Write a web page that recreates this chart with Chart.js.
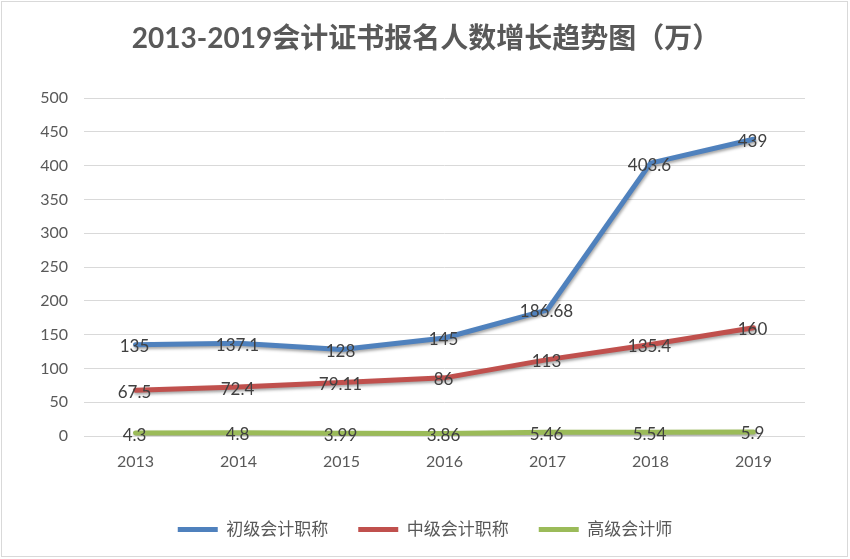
<!DOCTYPE html>
<html>
<head>
<meta charset="utf-8">
<script src="https://cdn.jsdelivr.net/npm/chart.js@4"></script>
<style>
    body { margin: 0; background: #fff; }
    #wrap { width: 850px; height: 559px; }
</style>
</head>
<body>
<div id="wrap"><canvas id="chartZhengshu"></canvas></div>
<script>
const years = ['2013', '2014', '2015', '2016', '2017', '2018', '2019'];
const chuji = [135, 137.1, 128, 145, 186.68, 403.6, 439];
const zhongji = [67.5, 72.4, 79.11, 86, 113, 135.4, 160];
const gaoji = [4.3, 4.8, 3.99, 3.86, 5.46, 5.54, 5.9];
const yTicks = [0, 50, 100, 150, 200, 250, 300, 350, 400, 450, 500];
const titulo = '2013-2019会计证书报名人数增长趋势图（万）';

const fontFam = "Lato, 'Noto Sans CJK SC', sans-serif";

// labels on each point, Excel style
const etiquetas = {
    id: 'etiquetas',
    afterDatasetsDraw(chart) {
        const ctx = chart.ctx;
        ctx.save();
        ctx.font = "17px " + fontFam;
        ctx.fillStyle = '#404040';
        ctx.textAlign = 'center';
        ctx.textBaseline = 'middle';
        chart.data.datasets.forEach((ds, i) => {
            chart.getDatasetMeta(i).data.forEach((pt, j) => {
                ctx.fillText(String(ds.data[j]), pt.x - 1, pt.y + 2);
            });
        });
        ctx.restore();
    }
};

const sombra = {
    id: 'sombra',
    beforeDatasetDraw(chart) {
        const ctx = chart.ctx;
        ctx.save();
        ctx.shadowColor = 'rgba(0,0,0,0.35)';
        ctx.shadowBlur = 3;
        ctx.shadowOffsetX = 1;
        ctx.shadowOffsetY = 2;
    },
    afterDatasetDraw(chart) {
        chart.ctx.restore();
    }
};

// white background, grey frame and centred title
const marco = {
    id: 'marco',
    beforeDraw(chart) {
        const ctx = chart.ctx;
        ctx.save();
        ctx.fillStyle = '#fff';
        ctx.fillRect(0, 0, chart.width, chart.height);
        ctx.strokeStyle = '#d9d9d9';
        ctx.lineWidth = 1;
        ctx.strokeRect(1.5, 1.5, chart.width - 4, chart.height - 4);
        ctx.font = "bold 28px " + fontFam;
        ctx.fillStyle = '#595959';
        ctx.textAlign = 'center';
        ctx.textBaseline = 'middle';
        ctx.fillText(titulo, 426, 39);
        ctx.restore();
    }
};

const data = {
    labels: years,
    datasets: [
        { label: '初级会计职称', data: chuji, borderColor: '#4f81bd', backgroundColor: '#4f81bd' },
        { label: '中级会计职称', data: zhongji, borderColor: '#c0504d', backgroundColor: '#c0504d' },
        { label: '高级会计师', data: gaoji, borderColor: '#9bbb59', backgroundColor: '#9bbb59' }
    ].map((d) => Object.assign(d, { borderWidth: 5, pointRadius: 0, tension: 0, borderCapStyle: 'round', borderJoinStyle: 'round' }))
};

const config = {
    type: 'line',
    data: data,
    plugins: [marco, sombra, etiquetas],
    options: {
        responsive: true,
        maintainAspectRatio: false,
        animation: false,
        layout: { padding: { left: 0, right: 0, top: 98, bottom: 11 } },
        plugins: {
            title: { display: false },
            legend: {
                position: 'bottom',
                labels: {
                    color: '#595959',
                    font: { family: fontFam, size: 17 },
                    usePointStyle: true,
                    pointStyleWidth: 40,
                    pointStyle: 'line',
                    padding: 30
                }
            },
            tooltip: { enabled: false }
        },
        scales: {
            x: {
                offset: true,
                grid: { display: false, drawTicks: false },
                border: { display: false },
                ticks: { color: '#595959', font: { family: fontFam, size: 16 }, padding: 16 },
                afterFit: (s) => { s.height = 55; }
            },
            y: {
                min: 0,
                max: 500,
                afterBuildTicks: (s) => { s.ticks = yTicks.map((v) => ({ value: v })); },
                grid: { color: '#d9d9d9', drawTicks: false },
                border: { display: false },
                ticks: { color: '#595959', font: { family: fontFam, size: 16 }, padding: 16 },
                afterFit: (s) => { s.width = 84; }
            },
            // empty axis, only keeps the right margin
            derecha: {
                position: 'right',
                grid: { display: false, drawTicks: false },
                border: { display: false },
                ticks: { display: false },
                afterFit: (s) => { s.width = 45; }
            }
        }
    }
};

const grafico = new Chart(document.getElementById('chartZhengshu'), config);
</script>
</body>
</html>
